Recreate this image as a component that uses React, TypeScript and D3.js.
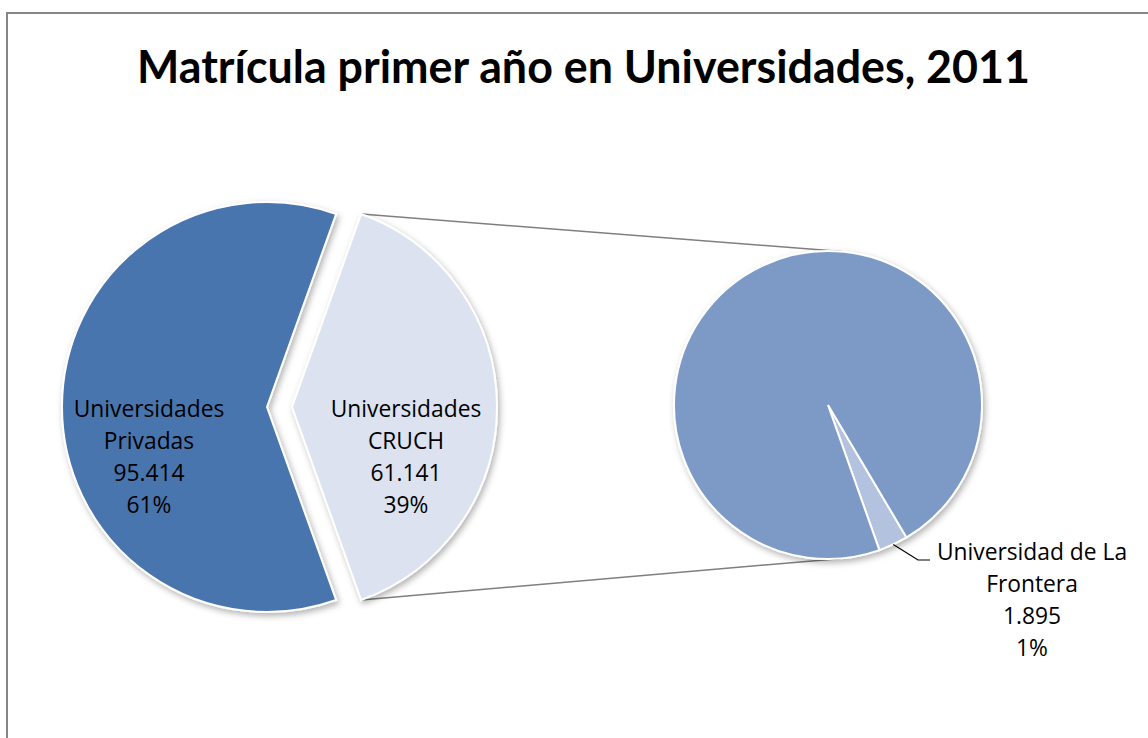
import React from "react";
import * as d3 from "d3";

const titleText = "Matrícula primer año en Universidades, 2011";
const mainCategories = ["Universidades Privadas", "Universidades CRUCH"];
const mainValues = [95414, 61141];
const subCategories = ["Universidad de La Frontera", "Otras CRUCH"];
const subValues = [1895, 59246];

const W = 1148;
const H = 738;
const fmt = (v: number) => d3.format(",")(v).replace(/,/g, ".");

export default function App() {
  const total = d3.sum(mainValues);
  const f = mainValues[1] / total;
  const cx = 267, cy = 407, r = 205, explode = 25;
  const pie = d3
    .pie<number>()
    .sort(null)
    .startAngle(Math.PI / 2 + Math.PI * f)
    .endAngle(Math.PI / 2 + Math.PI * f + 2 * Math.PI);
  const mainArcs = pie(mainValues);
  const arc = d3.arc<d3.PieArcDatum<number>>().innerRadius(0).outerRadius(r);

  const scx = 828, scy = 405, sr = 154;
  const subTotal = d3.sum(subValues);
  const smallEnd = (160.5 * Math.PI) / 180;
  const subStart = smallEnd - (2 * Math.PI * subValues[0]) / subTotal;
  const subPie = d3.pie<number>().sort(null).startAngle(subStart).endAngle(subStart + 2 * Math.PI);
  const subArcs = subPie(subValues);
  const subArc = d3.arc<d3.PieArcDatum<number>>().innerRadius(0).outerRadius(sr);

  const mainColors = ["#4874ae", "#dce2ef"];
  const subColors = ["#b3c2de", "#7d9ac7"];

  const cr = mainArcs[1];
  const topA = cr.startAngle;
  const botA = cr.endAngle;
  const topCorner = [cx + explode + r * Math.sin(topA), cy - r * Math.cos(topA)];
  const botCorner = [cx + explode + r * Math.sin(botA), cy - r * Math.cos(botA)];
  const a1 = (5 * Math.PI) / 180;
  const a2 = (175 * Math.PI) / 180;
  const subTop = [scx + sr * Math.sin(a1), scy - sr * Math.cos(a1)];
  const subBot = [scx + sr * Math.sin(a2), scy - sr * Math.cos(a2)];

  const pct = (v: number) => Math.round((v / total) * 100) + "%";
  const labelFont = "'Open Sans', Lato, sans-serif";
  const titleFont = "Lato, 'Open Sans', sans-serif";
  const lh = 32;
  const fs = 22.8;

  const mainLabels = [
    { x: 149, y: 417, lines: ["Universidades", "Privadas", fmt(mainValues[0]), pct(mainValues[0])] },
    { x: 406, y: 417, lines: ["Universidades", "CRUCH", fmt(mainValues[1]), pct(mainValues[1])] },
  ];
  const fr = subArcs[0];
  const midA = (fr.startAngle + fr.endAngle) / 2;
  const lp = [scx + sr * Math.sin(midA), scy - sr * Math.cos(midA)];
  const frLabel = { x: 1032, y: 560, lines: ["Universidad de La", "Frontera", fmt(subValues[0]), pct(subValues[0])] };

  return (
    <svg width={W} height={H} style={{ position: "absolute", left: 0, top: 0, background: "#fff" }}>
      <defs>
        <filter id="sh" x="-20%" y="-20%" width="140%" height="140%">
          <feDropShadow dx="2" dy="3" stdDeviation="3" floodColor="#000" floodOpacity="0.3" />
        </filter>
      </defs>
      <rect x={0} y={0} width={W} height={H} fill="#fff" />
      <rect x={7} y={13} width={1300} height={900} fill="none" stroke="#868686" strokeWidth={2} />
      <text
        x={583.5}
        y={83}
        textAnchor="middle"
        fontFamily={titleFont}
        fontWeight="bold"
        fontSize={45}
        textLength={893}
        lengthAdjust="spacingAndGlyphs"
        fill="#000"
      >
        {titleText}
      </text>

      <line x1={topCorner[0]} y1={topCorner[1]} x2={subTop[0]} y2={subTop[1]} stroke="#7f7f7f" strokeWidth={1.5} />
      <line x1={botCorner[0]} y1={botCorner[1]} x2={subBot[0]} y2={subBot[1]} stroke="#7f7f7f" strokeWidth={1.5} />

      <g filter="url(#sh)">
        {mainArcs.map((d, i) => (
          <path
            key={mainCategories[i]}
            d={arc(d) as string}
            transform={`translate(${cx + (i === 1 ? explode : 0)},${cy})`}
            fill={mainColors[i]}
            stroke="#fff"
            strokeWidth={2}
            strokeLinejoin="miter"
          />
        ))}
      </g>
      <g filter="url(#sh)" transform={`translate(${scx},${scy})`}>
        {subArcs.map((d, i) => (
          <path key={subCategories[i]} d={subArc(d) as string} fill={subColors[i]} stroke="#fff" strokeWidth={2} />
        ))}
      </g>

      {mainLabels.map((l, i) => (
        <text key={i} textAnchor="middle" fontFamily={labelFont} fontSize={fs} fill="#000">
          {l.lines.map((t, j) => (
            <tspan key={j} x={l.x} y={l.y + j * lh}>
              {t}
            </tspan>
          ))}
        </text>
      ))}

      <polyline
        points={`${lp[0]},${lp[1]} ${918},${560} ${930},${560}`}
        fill="none"
        stroke="#000"
        strokeWidth={1.2}
      />
      <text textAnchor="middle" fontFamily={labelFont} fontSize={fs} fill="#000">
        {frLabel.lines.map((t, j) => (
          <tspan key={j} x={frLabel.x} y={frLabel.y + j * lh}>
            {t}
          </tspan>
        ))}
      </text>
    </svg>
  );
}
